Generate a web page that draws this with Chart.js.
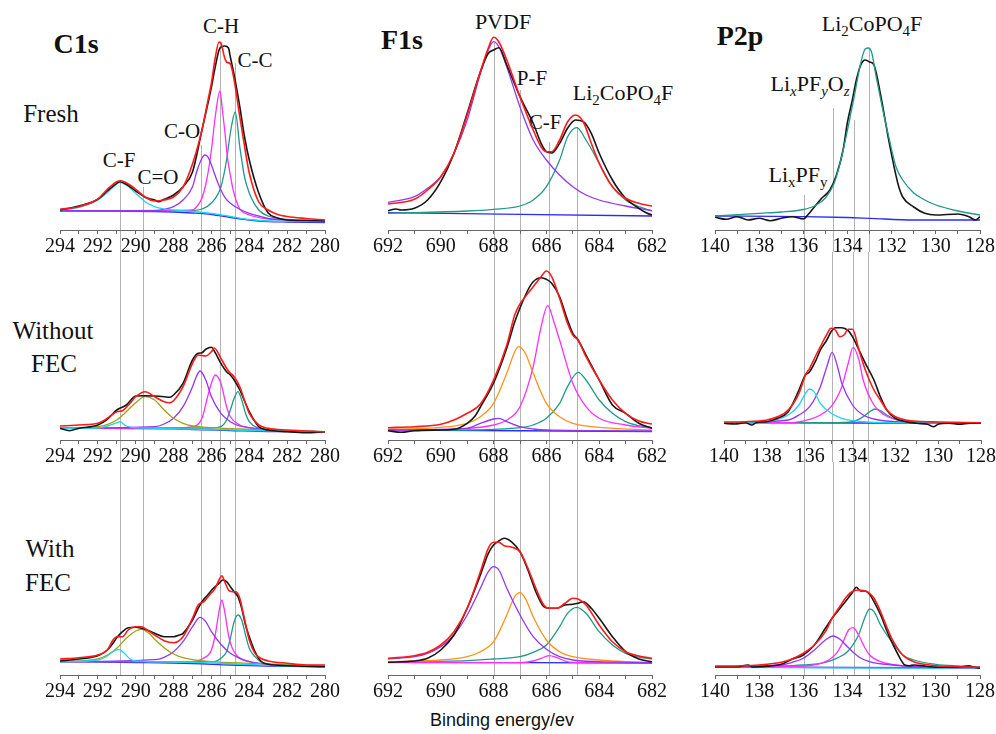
<!DOCTYPE html>
<html>
<head>
<meta charset="utf-8">
<script src="https://cdn.jsdelivr.net/npm/chart.js@4.4.0/dist/chart.umd.min.js"></script>
<style>
  body { margin: 0; background: #fff; width: 996px; height: 734px; position: relative; overflow: hidden; font-family: 'Liberation Serif', 'Times New Roman', serif; color: #111; }
  canvas { position: absolute; }
  .lbl { position: absolute; transform: translate(-50%, -50%); white-space: nowrap; line-height: 1; }
  .lbl sub { font-size: 68%; vertical-align: -0.35em; line-height: 0; }
  .big { font-weight: bold; font-size: 28px; }
  .row { font-size: 25px; }
  .peak { font-size: 21px; }
  .xtitle { font-family: 'Liberation Sans', Arial, sans-serif; font-size: 18px; }
</style>
</head>
<body>
<div class="lbl big" style="left:76px;top:44px">C1s</div>
<div class="lbl big" style="left:402px;top:40px">F1s</div>
<div class="lbl big" style="left:740px;top:36px">P2p</div>
<div class="lbl row" style="left:51px;top:113px">Fresh</div>
<div class="lbl row" style="left:53px;top:330px">Without</div>
<div class="lbl row" style="left:54px;top:363px">FEC</div>
<div class="lbl row" style="left:50px;top:548px">With</div>
<div class="lbl row" style="left:48px;top:582px">FEC</div>
<div class="lbl peak" style="left:221px;top:26px">C-H</div>
<div class="lbl peak" style="left:255px;top:60px">C-C</div>
<div class="lbl peak" style="left:182px;top:131px">C-O</div>
<div class="lbl peak" style="left:119px;top:160px">C-F</div>
<div class="lbl peak" style="left:158px;top:177px">C=O</div>
<div class="lbl peak" style="left:503px;top:22px;font-size:22px">PVDF</div>
<div class="lbl peak" style="left:532px;top:78px">P-F</div>
<div class="lbl peak" style="left:545px;top:122px">C-F</div>
<div class="lbl peak" style="left:623px;top:93px;font-size:22px">Li<sub>2</sub>CoPO<sub>4</sub>F</div>
<div class="lbl peak" style="left:872px;top:24px;font-size:22px">Li<sub>2</sub>CoPO<sub>4</sub>F</div>
<div class="lbl peak" style="left:810px;top:84px;font-size:22px">Li<sub><i>x</i></sub>PF<sub><i>y</i></sub>O<sub><i>z</i></sub></div>
<div class="lbl peak" style="left:798px;top:175px;font-size:22px">Li<sub>x</sub>PF<sub>y</sub></div>
<div class="lbl xtitle" style="left:502px;top:720px">Binding energy/ev</div>

<script>
// binding energy ranges (eV)
const c1sRange = [280, 294];
const f1sRange = [682, 692];
const p2pRange = [128, 140];

// ---------- C1s, fresh ----------
const c1sFreshRaw = [[294,20],[293,24],[292,30.7],[291.5,39],[291,46.7],[290.83,48.3],[290.5,45.7],[290,39],[289.5,32.7],[289,30],[288.8,28.3],[288.5,30.7],[288,35],[287.5,43.3],[287,58],[286.5,100],[286,143],[285.8,163],[285.55,182],[285.3,184],[285.1,182],[285,173],[284.8,155],[284.5,123],[284.25,93],[284,70],[283.5,37],[283,17],[282.5,12],[282,10],[281,9.5],[280,9]];
const c1sFreshFit = [[294,20.7],[293,23.3],[292,31],[291.5,40.7],[291,48.3],[290.8,49.3],[290.5,47.3],[290,40.7],[289.5,33],[289,29],[288.5,30],[288,33],[287.5,43],[287,66],[286.5,100],[286.2,128],[286,147],[285.8,172],[285.6,188],[285.5,187],[285.3,172],[285.2,168],[285,166],[284.8,150],[284.5,113],[284.2,78],[284,57],[283.5,28],[283,20],[282.5,15.5],[282,13.5],[281,11.5],[280,10]];
const c1sFreshCF = [[294,20],[293,22.7],[292,30],[291.5,37.3],[291,46],[290.83,47.7],[290.5,45],[290,36.7],[289.5,28.3],[289,23.3],[288.5,21],[288,20],[287,18.5],[286,16.5],[285,13.5],[284,10.5],[283,9],[280,8.5]];
const c1sFreshCO = [[294,19.3],[289,19.3],[288.5,20.7],[288,23.3],[287.5,30],[287,43.3],[286.75,60],[286.5,71.7],[286.35,75],[286.2,73.3],[286,65],[285.75,51.7],[285.5,40],[285.25,31.7],[285,26.7],[284.5,20.7],[284,16.7],[283.5,14],[283,11.7],[282,10],[280,9]];
const c1sFreshCH = [[294,19.3],[288,19.5],[287,20],[286.75,24],[286.5,32],[286.25,50],[286,80],[285.8,113],[285.55,139],[285.42,120],[285.3,100],[285.15,72],[285,55],[284.85,40],[284.7,30],[284.5,21],[284,15],[283,11],[282,10],[280,9]];
const c1sFreshCC = [[294,19],[287.5,19.3],[287,19.5],[286.5,21],[286,27],[285.5,43],[285.2,70],[285,97],[284.74,118],[284.5,83],[284.25,53],[284,37],[283.5,20],[283,14],[282,10.5],[281,9.5],[280,9]];
const c1sFreshBg = [[294,19],[289,18.5],[288,18],[287,17],[286,15.5],[285,12.5],[284,10],[283,8.5],[282,8],[280,7.5]];

// ---------- C1s, without FEC ----------
const c1sNoRaw = [[294,11.7],[293.5,9.3],[293,11.7],[292,15],[291.5,20.7],[291,30],[290.5,35],[290,44],[289.5,44.3],[289,44],[288.5,43.3],[288.2,42.7],[288,45],[287.5,56.7],[287,80],[286.7,86.7],[286.5,87.3],[286.3,90.7],[286,92.7],[285.8,87.3],[285.5,76.7],[285.2,68.3],[285,65],[284.8,60],[284.5,50],[284.2,36.7],[284,28.3],[283.5,13.3],[283,10],[282,8.3],[281,7.3],[280,8.3]];
const c1sNoFit = [[294,14],[293,15],[292,16.7],[291.5,21.7],[291,28.3],[290.7,29.3],[290.3,36.7],[290,43.3],[289.5,48.3],[289,43.3],[288.5,38.3],[288.2,37.3],[288,39.3],[287.5,53.3],[287,76.7],[286.7,85],[286.3,84],[286,88.3],[285.85,92],[285.5,81.7],[285.2,71.7],[285,66.7],[284.8,63.3],[284.5,53.3],[284.2,36.7],[284,26.7],[283.5,15],[283,11.7],[282,10],[280,8.3]];
const c1sNoCF = [[294,11.7],[292,12],[291.5,14],[291,17.3],[290.85,18.3],[290.5,14],[290,12.3],[289,11.7],[286,10.5],[284,9.5],[280,8.3]];
const c1sNoCdO = [[294,11.7],[292,13.3],[291,20],[290.5,28.3],[290,37.3],[289.5,43.3],[289,40],[288.5,30],[288,21.7],[287.5,16.7],[287,14],[286,12.3],[284,10.7],[280,8.3]];
const c1sNoCO = [[294,11.7],[289,13.3],[288.5,16],[288,21.7],[287.5,33.3],[287,53.3],[286.8,63.3],[286.6,69],[286.3,60],[286,43.3],[285.5,26.7],[285,18.3],[284.5,14],[284,12.3],[283,10],[280,8.3]];
const c1sNoCH = [[294,11.7],[288,12],[287,13.3],[286.5,21.7],[286.2,43.3],[286,56.7],[285.8,65],[285.5,56.7],[285.2,33.3],[285,23.3],[284.5,15],[284,12.3],[283,10],[280,8.3]];
const c1sNoCC = [[294,11.7],[286,12],[285.5,13.3],[285.2,20],[285,30],[284.8,41.7],[284.6,48.3],[284.4,40],[284.2,26.7],[284,18.3],[283.5,11.7],[283,10],[280,8.3]];
const c1sNoBg = [[294,11.7],[288,11.2],[287,10.5],[285,9.5],[283,8.5],[280,8.3]];

// ---------- C1s, with FEC ----------
const c1sFecRaw = [[294,14],[293,16],[292,19.3],[291.5,25],[291.2,31.7],[291,37.3],[290.7,43.3],[290.4,47.3],[290,47.7],[289.7,46.7],[289.4,45],[289,41.7],[288.5,38.3],[288,38.3],[287.7,40],[287.5,41.7],[287,55],[286.7,66.7],[286.5,73.3],[286.2,80],[285.9,86.7],[285.6,91.7],[285.4,95],[285.2,93.3],[285,88.3],[284.8,83.3],[284.6,78.3],[284.4,66.7],[284.2,50],[284,38.3],[283.7,23.3],[283.4,14],[283,10.7],[282,9.3],[280,8.3]];
const c1sFecFit = [[294,16],[293,17.3],[292,20],[291.5,25],[291.2,35],[291,38.3],[290.7,38.3],[290.4,45],[290,48.3],[289.7,48.3],[289.4,45],[289,40],[288.5,34.3],[288,32.3],[287.5,38.3],[287,56.7],[286.7,70],[286.4,73.3],[286.1,80],[285.8,86.7],[285.6,95],[285.45,99.3],[285.3,93.3],[285.1,85],[284.9,83.3],[284.7,83.3],[284.5,76.7],[284.3,60],[284,35],[283.7,21.7],[283.4,16.7],[283,14],[282,11.7],[281,10],[280,10]];
const c1sFecCF = [[294,13.3],[292,15],[291.5,19],[291.2,23.3],[290.9,25.7],[290.6,21.7],[290.3,16],[290,14],[288,13],[286,12],[284,10.5],[282,9],[280,8.3]];
const c1sFecCdO = [[294,13.3],[292,16],[291.5,20],[291,26.7],[290.5,36.7],[290,44],[289.7,45.7],[289.3,41.7],[289,35.7],[288.5,27.3],[288,21],[287.5,17.3],[287,15.3],[286,13.3],[284,11.7],[280,9.3]];
const c1sFecCO = [[294,13.3],[289,15.3],[288.5,17.7],[288,23.3],[287.5,33.3],[287,48.3],[286.6,57.7],[286.3,53.3],[286,43.3],[285.5,30.7],[285,21.7],[284.5,16.7],[284,13.3],[283,10.7],[280,9]];
const c1sFecCH = [[294,13.3],[287,13.3],[286.5,16],[286,25],[285.8,40],[285.6,63.3],[285.45,75],[285.3,63.3],[285.1,40],[284.9,26.7],[284.6,18.3],[284,13.3],[283,10.7],[280,9]];
const c1sFecCC = [[294,13.3],[286,13.3],[285.8,13.5],[285.5,16.7],[285.2,23.3],[285,36.7],[284.8,53.3],[284.6,60],[284.4,55],[284.2,40],[284,26.7],[283.7,18.3],[283.4,13.3],[283,10.7],[280,9]];
const c1sFecBg = [[294,13.3],[290,12.5],[287,11.5],[285,10],[283,9],[280,8.3]];

// ---------- F1s, fresh ----------
const f1sFreshRaw = [[692,19.3],[691.7,21],[691.5,20],[691,21.7],[690.5,30],[690,48.3],[689.5,76.7],[689,116.7],[688.5,158.3],[688.2,176.7],[688,180],[687.8,182.3],[687.5,165],[687,133.3],[686.5,106.7],[686.2,86.7],[686,78.3],[685.8,77],[685.5,86.7],[685.2,101.7],[684.9,110],[684.6,108.3],[684.3,96.7],[684,76.7],[683.5,50],[683,31.7],[682.5,21.7],[682.2,17],[682,15]];
const f1sFreshFit = [[692,26],[691,30.7],[690.5,40],[690,53.3],[689.5,76.7],[689,115],[688.5,158.3],[688.2,182],[688,192.7],[687.8,188],[687.5,170],[687,133],[686.5,100],[686.2,83],[686,78.3],[685.8,78.3],[685.5,90],[685.2,108],[684.9,115],[684.6,108],[684.3,86.7],[684,66.7],[683.5,43.3],[683,31.7],[682.5,26.7],[682,24]];
const f1sFreshPVDF = [[692,27.7],[691,33.3],[690.5,41.7],[690,53.3],[689.5,76.7],[689,110],[688.5,156.7],[688.2,180],[688,188.3],[687.8,183],[687.5,163],[687,123],[686.5,90],[686,70],[685.5,55],[685,43.3],[684.5,35],[684,30],[683,24],[682,19.3]];
const f1sFreshLCPF = [[692,16.7],[689,19],[688,20.7],[687,24],[686.5,30],[686,43.3],[685.5,70],[685.2,93],[684.85,102.3],[684.5,90],[684,66.7],[683.5,43.3],[683,30],[682.5,23.3],[682,19]];
const f1sFreshBg = [[692,17.3],[682,14]];

// ---------- F1s, without FEC ----------
const f1sNoRaw = [[692,9.3],[691.5,7.7],[691,9.3],[690,10],[689.5,10.7],[689,16.7],[688.7,24],[688.5,33],[688,57],[687.5,92],[687.2,118],[687,132],[686.7,150],[686.5,158.3],[686.2,162.3],[686,160.7],[685.8,156.7],[685.5,143.3],[685.2,120],[685,106.7],[684.8,100],[684.5,85],[684,60],[683.5,35],[683,26.7],[682.5,16.7],[682,11.7]];
const f1sNoFit = [[692,12.3],[691,13.3],[690,15.7],[689.5,20],[689,26.7],[688.5,36],[688,60],[687.5,95],[687.2,125],[687,136],[686.8,143.3],[686.5,153.3],[686.2,163.3],[686,169],[685.8,163.3],[685.5,141.7],[685.2,116.7],[685,105],[684.8,100],[684.5,83.3],[684,60],[683.5,40],[683,26.7],[682.5,19],[682,16]];
const f1sNoPVDF = [[692,10],[689,11.7],[688.5,16.7],[688,21],[687.8,21.7],[687.5,18.3],[687,13.3],[686.5,11],[686,10],[682,9]];
const f1sNoPF = [[692,10.7],[690,12.7],[689,16.7],[688.5,23.3],[688,36.7],[687.5,66.7],[687.2,88.3],[687.05,93.3],[686.8,86.7],[686.5,66.7],[686,36.7],[685.5,23.3],[685,16.7],[684,12.7],[682,10]];
const f1sNoCF = [[692,10],[689,11.7],[688,15],[687.5,20],[687,33.3],[686.5,73.3],[686.2,113.3],[685.95,134.3],[685.7,116.7],[685.5,100],[685,56.7],[684.5,33.3],[684,21.7],[683,15],[682,11.7]];
const f1sNoLCPF = [[692,9.3],[688,10.7],[687,12.3],[686.5,15],[686,21.7],[685.5,36.7],[685.2,53.3],[684.8,67.7],[684.5,60],[684,40],[683.5,26.7],[683,18.3],[682.5,14.3],[682,12.3]];
const f1sNoBg = [[692,10],[682,8.5]];

// ---------- F1s, with FEC ----------
const f1sFecRaw = [[692,12.7],[691,14],[690.5,16.7],[690,25],[689.5,40],[689,66.7],[688.5,100],[688.2,121.7],[688,130],[687.8,134],[687.6,136.7],[687.3,132.7],[687,123.3],[686.7,105],[686.4,83.3],[686.1,68.3],[685.9,66.7],[685.6,66.7],[685.3,70],[685,70.7],[684.8,71.7],[684.6,73.3],[684.3,66.7],[684,56.7],[683.5,38.3],[683,23.3],[682.5,16],[682,13.3]];
const f1sFecFit = [[692,16.7],[691,19.3],[690.5,22.7],[690,30],[689.5,43.3],[689,66.7],[688.5,103.3],[688.2,126.7],[688,132.7],[687.8,132.7],[687.6,129.3],[687.3,127.7],[687,123.3],[686.7,106.7],[686.4,86.7],[686.1,70],[685.9,66.7],[685.6,66.7],[685.3,71.7],[685,76.7],[684.8,76],[684.5,70],[684,50],[683.5,33.3],[683,23.3],[682.5,19],[682,16.7]];
const f1sFecPVDF = [[692,16],[691,18.3],[690.5,21.7],[690,28.3],[689.5,40],[689,60],[688.5,86.7],[688.2,103.3],[688,108.3],[687.8,105],[687.5,86.7],[687,60],[686.5,38.3],[686,25.7],[685.5,18.3],[685,15],[684,13.3],[683,12.7],[682,12.3]];
const f1sFecPF = [[692,13.3],[690,15],[689,18.3],[688.5,23.3],[688,33.3],[687.5,60],[687.2,78.3],[687,82.3],[686.8,76.7],[686.5,58.3],[686,35],[685.5,23.3],[685,18.3],[684,15],[683,13.3],[682,12.7]];
const f1sFecCF = [[692,12.3],[687,12.3],[686.5,14],[686.2,16.7],[685.9,19.3],[685.6,17.3],[685.3,14],[685,12.7],[682,12.3]];
const f1sFecLCPF = [[692,13.3],[689,14.3],[688,16],[687,18.3],[686.5,22.7],[686,30],[685.5,48.3],[685.2,61.7],[684.85,67.7],[684.5,61.7],[684,43.3],[683.5,30],[683,21.7],[682.5,18],[682,16]];
const f1sFecBg = [[692,12.7],[682,12]];

// ---------- P2p, fresh ----------
const p2pFreshRaw = [[140,12.7],[139.5,10.7],[139,13.3],[138.5,10],[138,11.7],[137.5,9.3],[137,11.7],[136.5,13.3],[136,11],[135.8,15],[135.5,23],[135.2,31],[134.8,40],[134.5,55],[134.2,80],[134,108],[133.8,128],[133.6,150],[133.4,165],[133.2,170],[133,168],[132.8,165],[132.5,135],[132.2,98],[132,75],[131.7,45],[131.5,33],[131,23],[130.5,16.7],[130,15],[129,16],[128.5,13.3],[128.2,10],[128,13.3]];
const p2pFreshLCPF = [[140,14],[138,16.7],[137,18],[136,20.5],[135.5,24],[135,32],[134.6,47],[134.3,70],[134,100],[133.7,133],[133.4,167],[133.2,181],[133.05,182],[132.9,177],[132.7,153],[132.4,120],[132.1,90],[131.8,63],[131.5,50],[131,37],[130.5,30],[130,25],[129,19],[128,15]];
const p2pFreshBg = [[140,14],[136,13.3],[134,12.5],[133,11.7],[131,10],[128,10]];

// ---------- P2p, without FEC ----------
const p2pNoRaw = [[140,16.7],[139.5,16],[139,17.3],[138.7,15],[138.5,17.3],[138,18.3],[137.5,21.7],[137,28.3],[136.5,50],[136.2,65],[136,68.3],[135.7,80],[135.5,90],[135.2,100],[135,108.3],[134.8,112.3],[134.5,112.3],[134.2,109.3],[134,103.3],[133.7,90],[133.4,76.7],[133,60],[132.7,43.3],[132.4,30],[132,21.7],[131.5,18.3],[131,16.7],[130.5,15.7],[130.2,13.3],[130,15.7],[129.5,16.7],[129,15.7],[128.5,16.7],[128,16.7]];
const p2pNoFit = [[140,18],[139,18.3],[138,20],[137.5,23.3],[137,30],[136.5,46.7],[136.2,65],[136,71.7],[135.7,85],[135.5,93.3],[135.2,105.7],[135,111.7],[134.8,110],[134.6,103.3],[134.4,105],[134.2,110.7],[134,110.7],[133.7,90],[133.4,70],[133,50],[132.7,40],[132.4,30],[132,23.3],[131.5,20],[131,18.7],[130,18],[128,17.3]];
const p2pNoLiPF = [[140,17.3],[138,18.3],[137.5,20.7],[137,25],[136.5,35],[136.2,46.7],[136,51],[135.8,48.3],[135.5,36.7],[135,26.7],[134.5,21.7],[134,19.3],[133,17.7],[128,17]];
const p2pNoLiPFO = [[140,17.3],[137,20],[136.5,25],[136,33.3],[135.5,53.3],[135.2,73.3],[134.95,87.7],[134.7,73.3],[134.5,56.7],[134,35],[133.5,25],[133,21],[132,18.3],[128,17]];
const p2pNoMid = [[140,17.3],[137,17.3],[136,20.7],[135.5,25],[135,33.3],[134.5,53.3],[134.2,76.7],[133.97,92.7],[133.7,80],[133.5,60],[133,35],[132.5,25],[132,20.7],[131,18.3],[128,17]];
const p2pNoLCPF = [[140,17.3],[135,17.3],[134,18.3],[133.5,23.3],[133.2,28.3],[132.95,31],[132.7,29.3],[132.4,25],[132,20.7],[131.5,18.3],[131,17.3],[128,17]];
const p2pNoBg = [[140,17.3],[128,16.7]];

// ---------- P2p, with FEC ----------
const p2pFecRaw = [[140,8.3],[139,8.3],[138.5,10],[138.3,8],[138,8.3],[137,10.7],[136.5,16],[136,20],[135.5,30],[135,46.7],[134.7,56.7],[134.4,65],[134.1,73.3],[133.8,81.7],[133.6,87.7],[133.4,84],[133.2,84],[133,80.7],[132.8,73.3],[132.5,60],[132.2,43.3],[132,33.3],[131.7,20],[131.4,10],[131.2,9.3],[131,10],[130.5,9],[130,7.7],[129,7.7],[128.5,9.3],[128.3,8],[128,6.7]];
const p2pFecFit = [[140,9],[139,9],[138,10],[137,12.7],[136.5,16],[136,21.7],[135.5,30],[135,43.3],[134.7,56.7],[134.4,66.7],[134.1,76.7],[133.8,83.3],[133.5,85],[133.2,84],[133,81.7],[132.8,76.7],[132.5,63.3],[132.2,46.7],[132,36.7],[131.5,20],[131,13.3],[130.5,10.7],[130,9.3],[129,8.3],[128,7.7]];
const p2pFecLiPFO = [[140,8.3],[137,10],[136.5,12.7],[136,16.7],[135.5,25],[135,35],[134.65,39],[134.3,35],[134,28.3],[133.5,18.3],[133,13.3],[132,10],[130,8],[128,7.3]];
const p2pFecMid = [[140,8],[136,9],[135,13.3],[134.5,21.7],[134.2,33.3],[133.95,45],[133.75,47.3],[133.5,40],[133.2,26.7],[133,20],[132.5,13.3],[132,10.7],[131,8.3],[128,7.3]];
const p2pFecLCPF = [[140,7.7],[136,10],[135,12.7],[134.5,16.7],[134,23.3],[133.5,40],[133.2,58.3],[133,66],[132.8,63.3],[132.5,50],[132,33.3],[131.5,20],[131,15],[130,10.7],[129,9],[128,8]];
const p2pFecLiPF = [[140,7.7],[128,6.7]];
const p2pFecBg = [[140,8],[128,7]];

// reference lines: [energy, start intensity]
const c1sMarks = [[290.83,48],[289.6,43],[286.55,85],[285.55,188],[284.74,167]];
const f1sMarks = [[688,187],[687,140],[685.9,88],[684.85,103]];
const p2pMarks = [[135.96,35],[134.64,122],[133.69,110],[133.03,182]];
const p2pNoMarks = [136.28, 134.94, 133.97, 133.29];

const COL = { raw:'#161616', fit:'#ff1a1a', cyan:'#1ed6ea', olive:'#a1a117', purple:'#9236f2', magenta:'#ff2eff', teal:'#1f9a88', blue:'#2b2bff', orange:'#ff9218' };

const refLines = {
  id: 'refLines',
  beforeDraw(chart, args, opts) {
    const { ctx, scales: { x, y } } = chart;
    ctx.save();
    ctx.strokeStyle = '#b3b3b3';
    ctx.lineWidth = 1;
    opts.lines.forEach(l => {
      const px = Math.round(x.getPixelForValue(l.e)) + 0.5;
      const top = l.from == null ? 0 : y.getPixelForValue(l.from);
      const bot = l.to == null ? chart.height : y.getPixelForValue(l.to);
      ctx.beginPath(); ctx.moveTo(px, top); ctx.lineTo(px, bot); ctx.stroke();
    });
    ctx.restore();
  }
};

function panel(box, pad, yMax, range, series, lines) {
  const cv = document.createElement('canvas');
  cv.width = box[2]; cv.height = box[3];
  cv.style.left = box[0] + 'px'; cv.style.top = box[1] + 'px';
  document.body.appendChild(cv);
  new Chart(cv, {
    type: 'line',
    data: {
      datasets: series.map(([pts, c]) => ({
        data: pts, borderColor: COL[c], borderWidth: (c === 'raw' || c === 'fit') ? 1.6 : 1.3,
        pointRadius: 0, fill: false, cubicInterpolationMode: 'monotone'
      }))
    },
    options: {
      responsive: false, animation: false, events: [],
      layout: { padding: { left: pad[0], right: pad[1], top: pad[2], bottom: 0 } },
      plugins: { legend: { display: false }, tooltip: { enabled: false }, refLines: { lines } },
      scales: {
        x: {
          type: 'linear', reverse: true, min: range[0], max: range[1],
          afterFit(s) { s.height = 22; },
          border: { color: '#666' },
          grid: { drawOnChartArea: false, tickLength: 4, color: '#666' },
          ticks: {
            stepSize: 1, autoSkip: false, maxRotation: 0, padding: 1, color: '#111',
            font: { family: 'Liberation Serif', size: 20 },
            callback: v => (v % 2 === 0 ? String(v) : '')
          }
        },
        y: { display: false, min: 0, max: yMax }
      }
    },
    plugins: [refLines]
  });
}

const top1 = m => m.map(([e, f]) => ({ e, from: f }));
const mid = m => m.map(e => ({ e: Array.isArray(e) ? e[0] : e }));
const bot = m => m.map(e => ({ e: Array.isArray(e) ? e[0] : e, to: 0 }));

// row 1: fresh
panel([30, 0, 320, 252], [30, 25, 10], 220, c1sRange,
  [[c1sFreshFit,'fit'],[c1sFreshRaw,'raw'],[c1sFreshCF,'cyan'],[c1sFreshCO,'purple'],[c1sFreshCH,'magenta'],[c1sFreshCC,'teal'],[c1sFreshBg,'blue']],
  top1(c1sMarks));
panel([358, 0, 322, 252], [30, 28, 10], 220, f1sRange,
  [[f1sFreshFit,'fit'],[f1sFreshRaw,'raw'],[f1sFreshPVDF,'purple'],[f1sFreshLCPF,'teal'],[f1sFreshBg,'blue']],
  top1(f1sMarks));
panel([685, 0, 311, 252], [30, 16, 10], 220, p2pRange,
  [[p2pFreshLCPF,'teal'],[p2pFreshRaw,'raw'],[p2pFreshBg,'blue']],
  top1(p2pMarks));

// row 2: without FEC
panel([30, 252, 320, 210], [30, 25, 3], 185, c1sRange,
  [[c1sNoFit,'fit'],[c1sNoRaw,'raw'],[c1sNoCF,'cyan'],[c1sNoCdO,'olive'],[c1sNoCO,'purple'],[c1sNoCH,'magenta'],[c1sNoCC,'teal'],[c1sNoBg,'blue']],
  mid(c1sMarks));
panel([358, 252, 322, 210], [30, 28, 3], 185, f1sRange,
  [[f1sNoFit,'fit'],[f1sNoRaw,'raw'],[f1sNoPVDF,'purple'],[f1sNoPF,'orange'],[f1sNoCF,'magenta'],[f1sNoLCPF,'teal'],[f1sNoBg,'blue']],
  mid(f1sMarks));
panel([694, 252, 303, 210], [30, 14, 3], 185, p2pRange,
  [[p2pNoFit,'fit'],[p2pNoRaw,'raw'],[p2pNoLiPF,'cyan'],[p2pNoLiPFO,'purple'],[p2pNoMid,'magenta'],[p2pNoLCPF,'teal'],[p2pNoBg,'blue']],
  mid(p2pNoMarks));

// row 3: with FEC
panel([30, 462, 320, 235], [30, 25, 3], 210, c1sRange,
  [[c1sFecFit,'fit'],[c1sFecRaw,'raw'],[c1sFecCF,'cyan'],[c1sFecCdO,'olive'],[c1sFecCO,'purple'],[c1sFecCH,'magenta'],[c1sFecCC,'teal'],[c1sFecBg,'blue']],
  bot(c1sMarks));
panel([358, 462, 322, 235], [30, 28, 3], 210, f1sRange,
  [[f1sFecFit,'fit'],[f1sFecRaw,'raw'],[f1sFecPVDF,'purple'],[f1sFecPF,'orange'],[f1sFecCF,'magenta'],[f1sFecLCPF,'teal'],[f1sFecBg,'blue']],
  bot(f1sMarks));
panel([685, 462, 311, 235], [30, 16, 3], 210, p2pRange,
  [[p2pFecFit,'fit'],[p2pFecRaw,'raw'],[p2pFecLiPFO,'purple'],[p2pFecMid,'magenta'],[p2pFecLCPF,'teal'],[p2pFecLiPF,'cyan'],[p2pFecBg,'blue']],
  bot(p2pMarks));
</script>
</body>
</html>
